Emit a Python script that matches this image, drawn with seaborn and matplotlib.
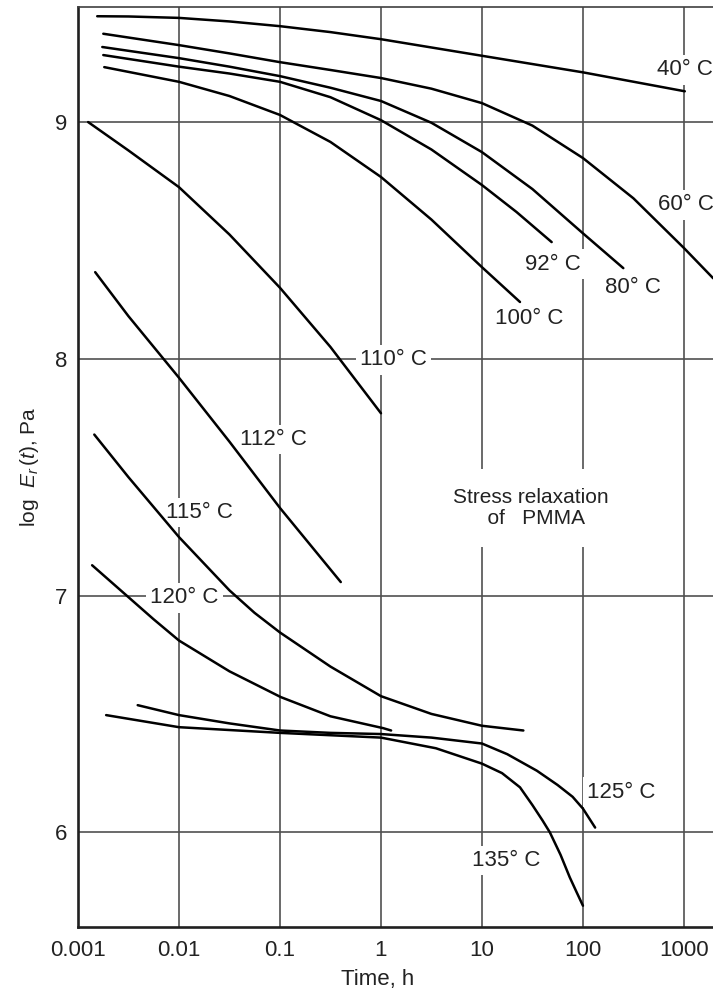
import matplotlib
matplotlib.use("Agg")
import matplotlib.pyplot as plt
import numpy as np
import pandas as pd
import seaborn as sns

# Stress relaxation modulus of PMMA, log E_r(t) [Pa] against time [h]
t_40 = [0.00155, 0.00316, 0.01, 0.0316, 0.1, 0.316, 1, 10, 100, 1020]
e_40 = [9.447, 9.446, 9.44, 9.425, 9.405, 9.38, 9.35, 9.28, 9.21, 9.13]

t_60 = [0.00178, 0.01, 0.0316, 0.1, 0.316, 1, 3.16, 10, 31.6, 100, 316, 1000, 1950]
e_60 = [9.373, 9.325, 9.29, 9.253, 9.22, 9.186, 9.141, 9.08, 8.985, 8.848, 8.678,
        8.468, 8.34]

t_80 = [0.00174, 0.01, 0.0316, 0.1, 0.316, 1, 3.16, 10, 31.6, 100, 251]
e_80 = [9.317, 9.27, 9.234, 9.194, 9.145, 9.089, 8.997, 8.873, 8.717, 8.53, 8.383]

t_92 = [0.00178, 0.01, 0.0316, 0.1, 0.316, 1, 3.16, 10, 22, 49]
e_92 = [9.283, 9.234, 9.205, 9.17, 9.105, 9.008, 8.884, 8.734, 8.62, 8.493]

t_100 = [0.00182, 0.01, 0.0316, 0.1, 0.316, 1, 3.16, 10, 23.8]
e_100 = [9.232, 9.17, 9.11, 9.03, 8.916, 8.768, 8.588, 8.387, 8.24]

t_110 = [0.00126, 0.00316, 0.01, 0.0316, 0.1, 0.316, 1.0]
e_110 = [9.0, 8.88, 8.725, 8.525, 8.30, 8.05, 7.77]

t_112 = [0.00148, 0.00316, 0.01, 0.0316, 0.1, 0.4]
e_112 = [8.366, 8.18, 7.92, 7.65, 7.37, 7.057]

t_115 = [0.00145, 0.00316, 0.01, 0.0316, 0.056, 0.1, 0.316, 1, 3.16, 10, 25.7]
e_115 = [7.68, 7.50, 7.247, 7.022, 6.927, 6.844, 6.70, 6.575, 6.50, 6.45, 6.43]

t_120 = [0.00138, 0.00292, 0.0056, 0.01, 0.0316, 0.102, 0.316, 1.05, 1.26]
e_120 = [7.128, 7.006, 6.90, 6.81, 6.68, 6.571, 6.49, 6.44, 6.43]

t_125 = [0.0039, 0.01, 0.0316, 0.1, 0.316, 1, 3.16, 10, 17.8, 35, 56, 79, 100, 132]
e_125 = [6.537, 6.495, 6.46, 6.43, 6.42, 6.415, 6.40, 6.375, 6.33, 6.26, 6.20,
         6.15, 6.10, 6.02]

t_135 = [0.0019, 0.01, 0.1, 1, 3.5, 10, 15.8, 23.8, 31.6, 39.8, 47, 60, 74, 87, 100]
e_135 = [6.495, 6.444, 6.42, 6.40, 6.355, 6.29, 6.25, 6.19, 6.115, 6.05, 6.0,
         5.905, 5.81, 5.745, 5.69]

temperatures = ["40° C", "60° C", "80° C", "92° C", "100° C", "110° C",
                "112° C", "115° C", "120° C", "125° C", "135° C"]
times = [t_40, t_60, t_80, t_92, t_100, t_110, t_112, t_115, t_120, t_125, t_135]
moduli = [e_40, e_60, e_80, e_92, e_100, e_110, e_112, e_115, e_120, e_125, e_135]

# curve labels: time [h] and log E at the left edge of each label
label_time = [541, 553, 165, 26.7, 13.5, 0.62, 0.040, 0.0074, 0.0052, 110, 7.9]
label_loge = [9.22, 8.65, 8.30, 8.40, 8.17, 7.995, 7.66, 7.35, 6.99, 6.17, 5.88]

x_ticks = [0.001, 0.01, 0.1, 1, 10, 100, 1000]
x_tick_labels = ["0.001", "0.01", "0.1", "1", "10", "100", "1000"]
y_ticks = [6, 7, 8, 9]
y_tick_labels = ["6", "7", "8", "9"]

rows = []
for name, tt, ee in zip(temperatures, times, moduli):
    for t, e in zip(tt, ee):
        rows.append({"curve": name, "time_h": t, "log_E": e})
df = pd.DataFrame(rows)

sns.set_style("white")
plt.rcParams["font.family"] = ["Liberation Sans", "DejaVu Sans"]
plt.rcParams["mathtext.fontset"] = "custom"
plt.rcParams["mathtext.rm"] = "Liberation Sans"
plt.rcParams["mathtext.it"] = "Liberation Sans:italic"

fig = plt.figure(figsize=(7.13, 9.92), dpi=100)
ax = fig.add_axes([78 / 713, 65 / 992, 1 - 78 / 713, 920 / 992])

ax.set_xscale("log")
sns.lineplot(data=df, x="time_h", y="log_E", units="curve", estimator=None,
             sort=False, color="black", linewidth=1.8, ax=ax, zorder=3)

ax.set_xlim(0.001, 1940)
ax.set_ylim(5.6, 9.486)

ax.set_xticks(x_ticks)
ax.set_xticklabels(x_tick_labels)
ax.minorticks_off()
ax.set_yticks(y_ticks)
ax.set_yticklabels(y_tick_labels)
ax.tick_params(axis="both", length=0, labelsize=16, colors="#222222")
ax.tick_params(axis="x", pad=9)
ax.tick_params(axis="y", pad=8)

ax.grid(True, which="major", color="#505050", linewidth=1.2)
ax.set_axisbelow(True)

for side in ["left", "bottom"]:
    ax.spines[side].set_linewidth(1.9)
    ax.spines[side].set_color("#202020")
ax.spines["top"].set_linewidth(1.2)
ax.spines["top"].set_color("#404040")
ax.spines["right"].set_visible(False)

ax.set_xlabel("Time, h", fontsize=16, color="#222222")
ax.xaxis.set_label_coords(0.472, -0.046)
ax.set_ylabel(r"log  $E_r\,(t)$, Pa", fontsize=15, color="#222222")
ax.yaxis.set_label_coords(-0.058, 0.5)

box = dict(facecolor="white", edgecolor="none", pad=3)
for name, t, e in zip(temperatures, label_time, label_loge):
    ax.text(t, e, name, fontsize=16, ha="left", va="center", color="#222222",
            bbox=box, zorder=2.6)

ax.text(30.5, 7.37, "Stress relaxation\n  of   PMMA", fontsize=15,
        ha="center", va="center", multialignment="center", color="#222222",
        linespacing=1.1,
        bbox=dict(facecolor="white", edgecolor="none", pad=14), zorder=2.6)

fig.savefig("out.png", dpi=100)
